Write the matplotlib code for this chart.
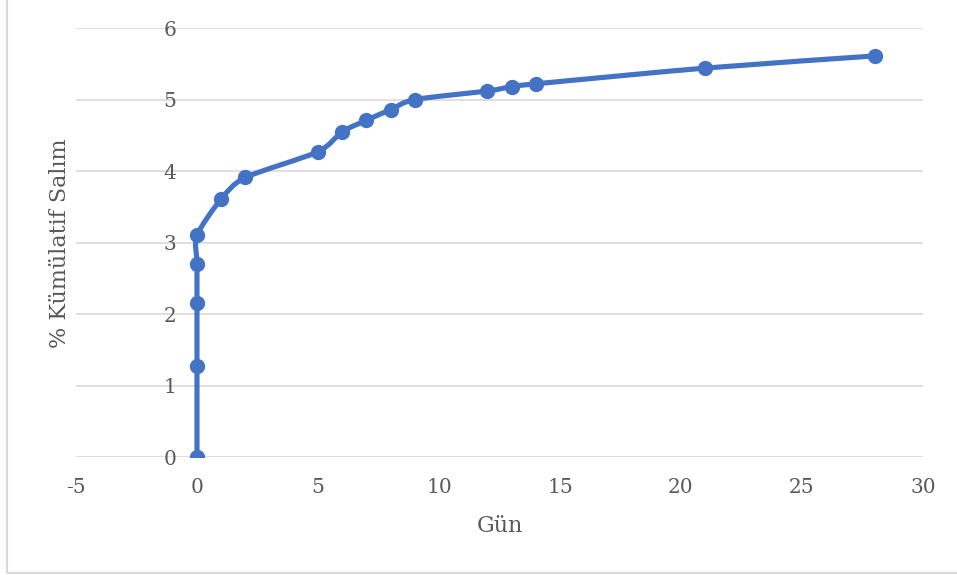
import numpy as np
import matplotlib.pyplot as plt
from matplotlib.path import Path
from matplotlib.patches import PathPatch, Rectangle

plt.rcParams['font.family'] = ['DejaVu Serif']
plt.rcParams['axes.unicode_minus'] = False

# release data
gun = [0, 0, 0, 0, 0, 1, 2, 5, 6, 7, 8, 9, 12, 13, 14, 21, 28]
salim = [0, 1.28, 2.16, 2.70, 3.10, 3.61, 3.91, 4.27, 4.55, 4.71, 4.86, 5.00,
         5.12, 5.18, 5.22, 5.44, 5.61]
x_ticks = [-5, 0, 5, 10, 15, 20, 25, 30]
y_ticks = [0, 1, 2, 3, 4, 5, 6]

blue = '#4472c4'
grey_txt = '#595959'

fig = plt.figure(figsize=(9.57, 5.75), dpi=100)
ax = fig.add_axes([0.0794, 0.2052, 0.885, 0.746])

# smoothed line (bezier segments through the points)
k = 0.13
pts = np.column_stack([gun, salim]).astype(float)
n = len(pts)
verts = [pts[0]]
codes = [Path.MOVETO]
for i in range(n - 1):
    p0 = pts[i - 1] if i > 0 else pts[i]
    p1 = pts[i]
    p2 = pts[i + 1]
    p3 = pts[i + 2] if i + 2 < n else pts[i + 1]
    c1 = p1 + (p2 - p0) * k
    c2 = p2 - (p3 - p1) * k
    verts += [c1, c2, p2]
    codes += [Path.CURVE4] * 3
ax.add_patch(PathPatch(Path(verts, codes), facecolor='none', edgecolor=blue,
                       lw=3.7, capstyle='round', joinstyle='round', zorder=3))
ax.plot(gun, salim, 'o', color=blue, markersize=10, zorder=4)

ax.set_xlim(-5, 30)
ax.set_ylim(0, 6)
ax.set_xticks(x_ticks)
ax.set_yticks(y_ticks)
ax.grid(axis='y', color='#d9d9d9', lw=1.2, zorder=0)
ax.set_axisbelow(True)

for s in ['top', 'right', 'bottom']:
    ax.spines[s].set_visible(False)
ax.spines['left'].set_position(('data', 0))
ax.spines['left'].set_color('none')

ax.tick_params(axis='both', length=0, labelsize=14.5, labelcolor=grey_txt)
ax.tick_params(axis='y', pad=15)
ax.tick_params(axis='x', pad=15)

fig.text(0.5225, 0.085, 'Gün', ha='center', va='center', fontsize=16, color=grey_txt)
fig.text(0.063, 0.577, '% Kümülatif Salım', ha='center', va='center',
         rotation=90, fontsize=16, color=grey_txt)

# chart area border
fig.patches.append(Rectangle((6.5 / 957, 2.5 / 575), 1.2, 1.2, transform=fig.transFigure,
                             fill=False, edgecolor='#d9d9d9', lw=1.5))

fig.savefig('out.png', dpi=100)
